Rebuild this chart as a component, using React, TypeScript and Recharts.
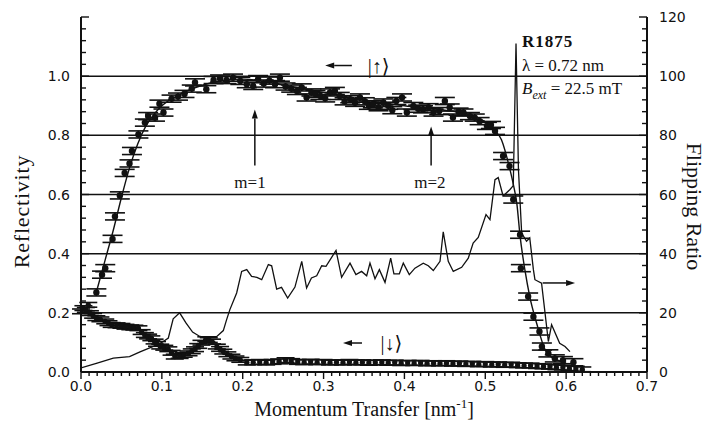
import React from 'react';
import {
  ComposedChart,
  XAxis,
  YAxis,
  Line,
  Scatter,
  ErrorBar,
  ReferenceLine,
  ReferenceDot,
  Label,
} from 'recharts';

// Spin-up reflectivity |↑⟩ : [momentum transfer (nm^-1), reflectivity]
const reflUp: [number, number][] = [
  [0.019, 0.269], [0.026, 0.329], [0.03, 0.351], [0.039, 0.45], [0.042, 0.526],
  [0.048, 0.597], [0.054, 0.673], [0.06, 0.705], [0.063, 0.747], [0.071, 0.803],
  [0.079, 0.843], [0.083, 0.865], [0.0915, 0.86], [0.097, 0.907], [0.102, 0.877],
  [0.112, 0.924], [0.12, 0.931], [0.128, 0.94], [0.137, 0.958], [0.141, 0.979],
  [0.155, 0.956], [0.164, 0.987], [0.172, 0.992], [0.18, 0.987], [0.188, 0.995],
  [0.197, 0.984], [0.205, 0.973], [0.213, 0.967], [0.219, 0.99], [0.226, 0.975],
  [0.233, 0.985], [0.24, 0.973], [0.246, 0.995], [0.253, 0.965], [0.26, 0.958],
  [0.267, 0.95], [0.273, 0.962], [0.279, 0.928], [0.285, 0.945], [0.29, 0.94],
  [0.296, 0.933], [0.302, 0.925], [0.308, 0.945], [0.314, 0.95], [0.32, 0.933],
  [0.326, 0.915], [0.333, 0.922], [0.339, 0.91], [0.345, 0.928], [0.351, 0.915],
  [0.356, 0.9], [0.361, 0.905], [0.368, 0.895], [0.374, 0.911], [0.38, 0.9],
  [0.385, 0.885], [0.39, 0.916], [0.397, 0.928], [0.403, 0.877], [0.411, 0.899],
  [0.417, 0.89], [0.423, 0.888], [0.43, 0.895], [0.436, 0.877], [0.443, 0.882],
  [0.45, 0.916], [0.456, 0.894], [0.46, 0.86], [0.467, 0.88], [0.473, 0.877],
  [0.481, 0.865], [0.487, 0.86], [0.493, 0.848], [0.502, 0.832], [0.507, 0.835],
  [0.512, 0.815], [0.522, 0.73], [0.53, 0.696], [0.5346, 0.583], [0.543, 0.464],
  [0.544, 0.351], [0.553, 0.255], [0.5595, 0.187], [0.567, 0.137], [0.57, 0.086],
  [0.578, 0.063], [0.586, 0.046], [0.596, 0.04], [0.609, 0.033],
];

// Fitted |↑⟩ reflectivity curve
const reflUpFit: [number, number][] = [
  [0.019, 0.27], [0.03, 0.38], [0.04, 0.48], [0.05, 0.59], [0.06, 0.69],
  [0.07, 0.77], [0.08, 0.83], [0.09, 0.87], [0.1, 0.9], [0.12, 0.935],
  [0.14, 0.96], [0.16, 0.977], [0.18, 0.987], [0.2, 0.99], [0.22, 0.985],
  [0.25, 0.97], [0.3, 0.945], [0.35, 0.92], [0.4, 0.9], [0.45, 0.885],
  [0.48, 0.87], [0.5, 0.845], [0.51, 0.82], [0.52, 0.785], [0.53, 0.69],
  [0.535, 0.63], [0.539, 0.57], [0.543, 0.46], [0.549, 0.345], [0.555, 0.255],
  [0.5635, 0.165], [0.574, 0.075], [0.585, 0.045], [0.6, 0.033],
];

// Spin-down reflectivity |↓⟩
const reflDown: [number, number][] = [
  [0, 0.205], [0.003, 0.216], [0.006, 0.21], [0.009, 0.227], [0.011, 0.199],
  [0.015, 0.19], [0.019, 0.182], [0.024, 0.178], [0.03, 0.171], [0.034, 0.165],
  [0.038, 0.159], [0.044, 0.158], [0.05, 0.156], [0.055, 0.153], [0.061, 0.151],
  [0.066, 0.15], [0.071, 0.148], [0.075, 0.135], [0.079, 0.125], [0.083, 0.12],
  [0.087, 0.114], [0.091, 0.103], [0.094, 0.095], [0.098, 0.086], [0.103, 0.082],
  [0.108, 0.077], [0.112, 0.065], [0.116, 0.052], [0.122, 0.054], [0.127, 0.058],
  [0.133, 0.063], [0.137, 0.07], [0.141, 0.077], [0.145, 0.088], [0.149, 0.099],
  [0.155, 0.111], [0.158, 0.108], [0.162, 0.103], [0.168, 0.086], [0.172, 0.078],
  [0.176, 0.069], [0.181, 0.06], [0.186, 0.052], [0.191, 0.046], [0.197, 0.041],
  [0.205, 0.032], [0.213, 0.033], [0.221, 0.034], [0.229, 0.032], [0.237, 0.034],
  [0.245, 0.036], [0.253, 0.04], [0.26, 0.037], [0.268, 0.034], [0.276, 0.033],
  [0.284, 0.035], [0.292, 0.033], [0.3, 0.034], [0.308, 0.032], [0.316, 0.033],
  [0.324, 0.032], [0.332, 0.034], [0.34, 0.032], [0.348, 0.033], [0.356, 0.031],
  [0.364, 0.032], [0.372, 0.033], [0.38, 0.031], [0.388, 0.032], [0.396, 0.03],
  [0.404, 0.031], [0.412, 0.03], [0.42, 0.031], [0.428, 0.029], [0.436, 0.03],
  [0.444, 0.029], [0.452, 0.03], [0.46, 0.028], [0.468, 0.029], [0.476, 0.027],
  [0.484, 0.028], [0.492, 0.026], [0.5, 0.027], [0.508, 0.025], [0.516, 0.026],
  [0.524, 0.024], [0.532, 0.025], [0.54, 0.023], [0.548, 0.022], [0.556, 0.022],
  [0.564, 0.02], [0.572, 0.019], [0.58, 0.018], [0.588, 0.016], [0.596, 0.015],
  [0.604, 0.013], [0.612, 0.011], [0.62, 0.009],
];

// Flipping ratio (right axis)
const flipRatio: [number, number][] = [
  [0, 1.4], [0.02, 3], [0.04, 4.7], [0.06, 5.2], [0.073, 6.8], [0.088, 8.5],
  [0.1, 10], [0.108, 11.5], [0.114, 18], [0.122, 20], [0.13, 16.5], [0.138, 13.5],
  [0.147, 12], [0.158, 11.5], [0.168, 12], [0.176, 14], [0.18, 17.6], [0.184, 21],
  [0.1925, 26.7], [0.1987, 34], [0.205, 34.6], [0.211, 32.3], [0.2175, 32],
  [0.2235, 31.2], [0.2317, 36.3], [0.2358, 35.9], [0.242, 28], [0.248, 28.6],
  [0.2556, 25], [0.2646, 28.7], [0.273, 37.4], [0.279, 28.4], [0.285, 31.8],
  [0.2915, 32.5], [0.2977, 35.9], [0.303, 35.7], [0.3154, 41.1], [0.3223, 32],
  [0.3327, 36.8], [0.34, 32.9], [0.347, 34], [0.3533, 32.5], [0.3574, 36.8],
  [0.3636, 31.5], [0.369, 34.6], [0.376, 30.3], [0.383, 38.5], [0.387, 33.2],
  [0.3937, 33.2], [0.3986, 36.8], [0.406, 32.9], [0.413, 35.1], [0.4233, 36.8],
  [0.4295, 35.9], [0.4357, 34.3], [0.444, 37.4], [0.448, 47.4], [0.4542, 37.4],
  [0.4604, 34], [0.4708, 35.4], [0.479, 38.5], [0.485, 43.6], [0.4913, 45.5],
  [0.5009, 53.2], [0.5058, 51.5], [0.512, 65], [0.516, 65.7], [0.522, 59.5],
  [0.5306, 61.7], [0.5346, 63], [0.538, 111], [0.541, 68.5], [0.545, 47],
  [0.551, 44.2], [0.555, 45.3], [0.5595, 34.6], [0.5614, 31.2], [0.5696, 30],
  [0.578, 10.3], [0.582, 16], [0.592, 9.7], [0.5986, 8.6], [0.6047, 6.9],
];

// Vertical error half-widths of the two reflectivity sets
const upError = 0.012;
const downError = 0.008;

// Axis tick labels
const xMajorTicks = [0, 0.1, 0.2, 0.3, 0.4, 0.5, 0.6, 0.7];
const leftMajorTicks = [0, 0.2, 0.4, 0.6, 0.8, 1.0, 1.2];
const rightMajorTicks = [0, 20, 40, 60, 80, 100, 120];

// Minor tick positions
const xAllTicks = Array.from({ length: 71 }, (_, i) => i / 100);
const leftAllTicks = Array.from({ length: 31 }, (_, i) => Math.round(i * 4) / 100);
const rightAllTicks = Array.from({ length: 31 }, (_, i) => i * 4);

const upRows = reflUp.map(([q, r]) => ({ q, r, e: upError }));
const downRows = reflDown.map(([q, r]) => ({ q, r, e: downError }));
const fitRows = reflUpFit.map(([q, r]) => ({ q, r }));
const flipRows = flipRatio.map(([q, f]) => ({ q, f }));

const INK = '#111';
const TICK_FONT = '"DejaVu Sans", "Liberation Sans", sans-serif';
const SERIF = '"Liberation Serif", "DejaVu Serif", serif';

const isMajor = (v: number, list: number[]) => list.some((m) => Math.abs(m - v) < 1e-6);

const BottomTick = (p: any) => {
  const v = p.payload.value;
  const major = isMajor(v, xMajorTicks);
  return (
    <g>
      <line x1={p.x} y1={p.y} x2={p.x} y2={p.y + (major ? 7 : 4)} stroke={INK} strokeWidth={1.4} />
      {major && (
        <text x={p.x} y={p.y + 19} textAnchor="middle" fontFamily={TICK_FONT} fontSize={14} fill={INK}>
          {v.toFixed(1)}
        </text>
      )}
    </g>
  );
};

const TopTick = (p: any) => {
  const major = isMajor(p.payload.value, xMajorTicks);
  return <line x1={p.x} y1={p.y} x2={p.x} y2={p.y + (major ? 7 : 4)} stroke={INK} strokeWidth={1.4} />;
};

const LeftTick = (p: any) => {
  const v = p.payload.value;
  const major = isMajor(v, leftMajorTicks);
  return (
    <g>
      <line x1={p.x} y1={p.y} x2={p.x + (major ? 8 : 5)} y2={p.y} stroke={INK} strokeWidth={1.4} />
      {major && v < 1.1 && (
        <text x={p.x - 11} y={p.y} dy="0.36em" textAnchor="end" fontFamily={TICK_FONT} fontSize={14} fill={INK}>
          {v.toFixed(1)}
        </text>
      )}
    </g>
  );
};

const RightTick = (p: any) => {
  const v = p.payload.value;
  const major = isMajor(v, rightMajorTicks);
  return (
    <g>
      <line x1={p.x} y1={p.y} x2={p.x - (major ? 8 : 5)} y2={p.y} stroke={INK} strokeWidth={1.4} />
      {major && (
        <text x={p.x + 12} y={p.y} dy="0.36em" textAnchor="start" fontFamily={TICK_FONT} fontSize={14} fill={INK}>
          {v}
        </text>
      )}
    </g>
  );
};

const Dot = (r: number) => (p: any) => <circle cx={p.cx} cy={p.cy} r={r} fill={INK} />;

const ArrowShape = (p: any) => {
  const { x1, y1, x2, y2 } = p;
  const dx = x2 - x1;
  const dy = y2 - y1;
  const len = Math.hypot(dx, dy) || 1;
  const ux = dx / len;
  const uy = dy / len;
  const head = 9;
  const half = 3;
  const bx = x2 - ux * head;
  const by = y2 - uy * head;
  const pts = `${x2},${y2} ${bx - uy * half},${by + ux * half} ${bx + uy * half},${by - ux * half}`;
  return (
    <g>
      <line x1={x1} y1={y1} x2={bx} y2={by} stroke={INK} strokeWidth={1.5} />
      <polygon points={pts} fill={INK} />
    </g>
  );
};

const TextAt = (
  content: React.ReactNode,
  anchor: 'start' | 'middle' | 'end',
  size = 15,
  weight = 'normal',
  spacing = 0,
) =>
  (p: any) => (
    <text
      x={p.cx}
      y={p.cy}
      textAnchor={anchor}
      fontFamily={SERIF}
      fontSize={size}
      fontWeight={weight}
      letterSpacing={spacing}
      fill={INK}
    >
      {content}
    </text>
  );

const arrows: { from: [number, number]; to: [number, number] }[] = [
  { from: [0.215, 0.698], to: [0.215, 0.887] },
  { from: [0.433, 0.698], to: [0.433, 0.83] },
  { from: [0.335, 1.036], to: [0.302, 1.036] },
  { from: [0.3475, 0.098], to: [0.324, 0.098] },
  { from: [0.571, 0.301], to: [0.611, 0.301] },
];

export default function App() {
  return (
    <div style={{ position: 'absolute', left: 0, top: 0, background: '#fff' }}>
      <ComposedChart width={710} height={427} margin={{ top: 17, right: 0, bottom: 0, left: 0 }}>
        <XAxis
          xAxisId="b"
          type="number"
          dataKey="q"
          domain={[0, 0.7]}
          ticks={xAllTicks}
          interval={0}
          height={55}
          tickSize={0}
          tickMargin={0}
          tickLine={false}
          tick={BottomTick}
          axisLine={{ stroke: INK, strokeWidth: 2 }}
          allowDataOverflow
        >
          <Label
            content={(lp: any) => {
              const vb = lp.viewBox;
              return (
                <text x={vb.x + vb.width / 2} y={vb.y + 44} textAnchor="middle" fontFamily={SERIF} fontSize={20} fill={INK}>
                  Momentum Transfer [nm<tspan dy={-8} fontSize={13}>-1</tspan><tspan dy={8}>]</tspan>
                </text>
              );
            }}
          />
        </XAxis>
        <XAxis
          xAxisId="t"
          orientation="top"
          type="number"
          domain={[0, 0.7]}
          ticks={xAllTicks}
          interval={0}
          height={0}
          tickSize={0}
          tickMargin={0}
          tickLine={false}
          tick={TopTick}
          axisLine={{ stroke: INK, strokeWidth: 2 }}
          allowDataOverflow
        />
        <YAxis
          yAxisId="left"
          type="number"
          domain={[0, 1.2]}
          ticks={leftAllTicks}
          interval={0}
          width={81}
          tickSize={0}
          tickMargin={0}
          tickLine={false}
          tick={LeftTick}
          axisLine={{ stroke: INK, strokeWidth: 2 }}
          allowDataOverflow
        >
          <Label
            content={(lp: any) => {
              const vb = lp.viewBox;
              const cy = vb.y + vb.height / 2 + 17;
              return (
                <text
                  x={29}
                  y={cy}
                  transform={`rotate(-90 29 ${cy})`}
                  textAnchor="middle"
                  fontFamily={SERIF}
                  fontSize={22}
                  letterSpacing={0.8}
                  fill={INK}
                >
                  Reflectivity
                </text>
              );
            }}
          />
        </YAxis>
        <YAxis
          yAxisId="right"
          orientation="right"
          type="number"
          domain={[0, 120]}
          ticks={rightAllTicks}
          interval={0}
          width={63}
          tickSize={0}
          tickMargin={0}
          tickLine={false}
          tick={RightTick}
          axisLine={{ stroke: INK, strokeWidth: 2 }}
          allowDataOverflow
        >
          <Label
            content={(lp: any) => {
              const vb = lp.viewBox;
              const cy = vb.y + vb.height / 2 + 12;
              return (
                <text
                  x={687}
                  y={cy}
                  transform={`rotate(90 687 ${cy})`}
                  textAnchor="middle"
                  fontFamily={SERIF}
                  fontSize={22}
                  fill={INK}
                >
                  Flipping Ratio
                </text>
              );
            }}
          />
        </YAxis>

        {leftMajorTicks.slice(1, 6).map((v) => (
          <ReferenceLine key={`g${v}`} xAxisId="b" yAxisId="left" y={v} stroke={INK} strokeWidth={1.5} />
        ))}

        <Line
          data={flipRows}
          xAxisId="b"
          yAxisId="right"
          dataKey="f"
          type="linear"
          dot={false}
          stroke={INK}
          strokeWidth={1.3}
          isAnimationActive={false}
        />
        <Line
          data={fitRows}
          xAxisId="b"
          yAxisId="left"
          dataKey="r"
          type="monotone"
          dot={false}
          stroke={INK}
          strokeWidth={1.4}
          isAnimationActive={false}
        />
        <Scatter data={downRows} xAxisId="b" yAxisId="left" dataKey="r" shape={Dot(2.6)} isAnimationActive={false}>
          <ErrorBar dataKey="e" direction="y" width={9} stroke={INK} strokeWidth={1.6} />
        </Scatter>
        <Scatter data={upRows} xAxisId="b" yAxisId="left" dataKey="r" shape={Dot(3.2)} isAnimationActive={false}>
          <ErrorBar dataKey="e" direction="y" width={10} stroke={INK} strokeWidth={1.6} />
        </Scatter>

        {arrows.map((a, i) => (
          <ReferenceLine
            key={`a${i}`}
            xAxisId="b"
            yAxisId="left"
            segment={[
              { x: a.from[0], y: a.from[1] },
              { x: a.to[0], y: a.to[1] },
            ]}
            shape={ArrowShape}
          />
        ))}

        <ReferenceDot xAxisId="b" yAxisId="left" x={0.209} y={0.622} r={0} shape={TextAt('m=1', 'middle', 17)} />
        <ReferenceDot xAxisId="b" yAxisId="left" x={0.4316} y={0.622} r={0} shape={TextAt('m=2', 'middle', 17)} />
        <ReferenceDot xAxisId="b" yAxisId="left" x={0.368} y={1.012} r={0} shape={TextAt('|↑⟩', 'middle', 20)} />
        <ReferenceDot xAxisId="b" yAxisId="left" x={0.384} y={0.076} r={0} shape={TextAt('|↓⟩', 'middle', 20)} />
        <ReferenceDot xAxisId="b" yAxisId="left" x={0.5454} y={1.1} r={0} shape={TextAt('R1875', 'start', 17, 'bold', 1)} />
        <ReferenceDot xAxisId="b" yAxisId="left" x={0.5454} y={1.016} r={0} shape={TextAt('λ = 0.72 nm', 'start', 17)} />
        <ReferenceDot
          xAxisId="b"
          yAxisId="left"
          x={0.5454}
          y={0.94}
          r={0}
          shape={TextAt(
            <>
              <tspan fontStyle="italic">B</tspan>
              <tspan dy={5} fontSize={12} fontStyle="italic">ext</tspan>
              <tspan dy={-5}> = 22.5 mT</tspan>
            </>,
            'start',
            17,
          )}
        />
      </ComposedChart>
    </div>
  );
}
